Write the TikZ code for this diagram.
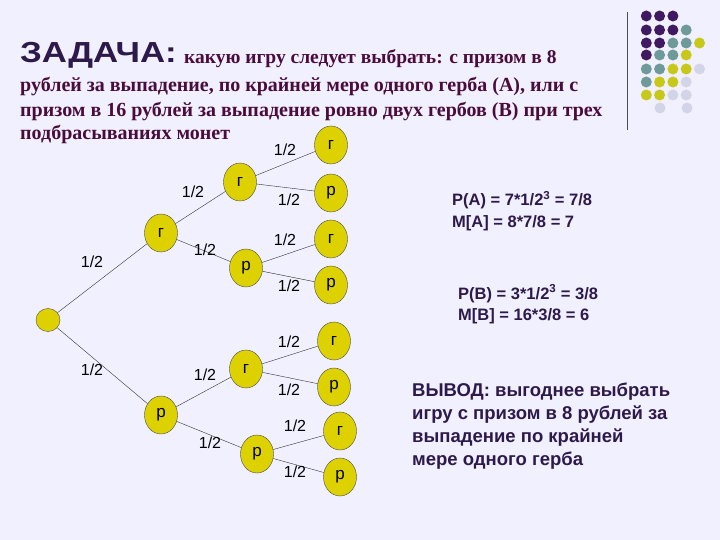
\documentclass[tikz,border=0pt]{standalone}
\usepackage{fontspec}
\setmainfont{Liberation Sans}
\newfontfamily\serifb{Liberation Serif}
\usetikzlibrary{shapes.geometric}
\begin{document}
\begin{tikzpicture}[x=1pt,y=-1pt,
  nd/.style={ellipse,draw=black!70,fill=yellow!70!olive,minimum width=33pt,minimum height=38pt,inner sep=0pt,font=\fontsize{17}{17}\selectfont},
  pl/.style={font=\fontsize{16}{16}\selectfont,inner sep=0pt},
  tx/.style={anchor=base west,inner sep=0pt,text=cD,font=\bfseries\fontsize{16.5}{16.5}\selectfont},
  ser/.style={anchor=base west,inner sep=0pt,text=cM,font=\serifb\bfseries\fontsize{20}{20}\selectfont},
  dt/.style={circle,inner sep=0pt,minimum size=11pt}]
\definecolor{cP}{HTML}{3F1A60}\definecolor{cT}{HTML}{6E9A9A}\definecolor{cY}{HTML}{C8C818}\definecolor{cL}{HTML}{D4D4E8}
\definecolor{cD}{HTML}{2E1A4A}\definecolor{cM}{HTML}{4A0C3C}
\fill[blue!6] (0,0) rectangle (720,540);
\useasboundingbox (0,0) rectangle (720,540);
% title
\node[anchor=base west,inner sep=0pt,text=cD,font=\bfseries\fontsize{29}{29}\selectfont] (t0) at (20,63) {\scalebox{1.2}[1]{ЗАДАЧА:}};
\node[ser,font=\serifb\bfseries\fontsize{19.5}{19.5}\selectfont] (t1) at (184,64) {какую игру следует выбрать: с призом в 8};
\node[ser] (t2) at (20,92) {рублей за выпадение, по крайней мере одного герба (А), или с};
\node[ser] (t3) at (20,117) {призом в 16 рублей за выпадение ровно двух гербов (В) при трех};
\node[ser] (t4) at (20,140) {подбрасываниях монет};
% deco
\draw[black!70] (627,12) -- (627,130);
\foreach \row/\y in {{cP,cP,cP}/16,{cP,cP,cP,cT}/30,{cP,cP,cT,cT,cY}/43,{cP,cT,cT,cY}/55,{cT,cT,cY,cY,cL}/69,{cT,cY,cY,cL}/82,{cY,cY,cL,cL}/95}{
  \foreach \c [count=\i] in \row { \node[dt,fill=\c] (d\i\y) at (633+13.3*\i,\y) {}; } }
\node[dt,fill=cL] (e1) at (660,108) {};
\node[dt,fill=cL] (e2) at (687,108) {};
% tree
\node[nd,minimum width=24pt,minimum height=23pt] (R) at (48,320) {};
\node[nd] (a) at (161,233) {г};
\node[nd] (b) at (161,415) {р};
\node[nd] (aa) at (240,182) {г};
\node[nd] (ab) at (246,268) {р};
\node[nd] (ba) at (246,369) {г};
\node[nd] (bb) at (257,454) {р};
\node[nd] (l1) at (331,145) {г};
\node[nd] (l2) at (331,193) {р};
\node[nd] (l3) at (331,239) {г};
\node[nd] (l4) at (331,285) {р};
\node[nd] (l5) at (334,341) {г};
\node[nd] (l6) at (334,387) {р};
\node[nd] (l7) at (340,431) {г};
\node[nd] (l8) at (340,477) {р};
\foreach \u/\v in {R/a,R/b,a/aa,a/ab,b/ba,b/bb,aa/l1,aa/l2,ab/l3,ab/l4,ba/l5,ba/l6,bb/l7,bb/l8}
  \draw[black!80,thin] (\u) -- (\v);
\foreach \p [count=\k] in {(92,262),(92,370),(193,192),(205,250),(205,375),(210,443),(285,150),(289,200),(285,240),(289,286),(289,342),(289,390),(295,426),(295,472)}
  \node[pl] (p\k) at \p {1/2};
% formulas
\node[tx] (f1) at (452,206) {Р(А) = 7*1/2\textsuperscript{3} = 7/8};
\node[tx] (f2) at (452,227) {М[А] = 8*7/8 = 7};
\node[tx] (f3) at (458,299) {Р(В) = 3*1/2\textsuperscript{3} = 3/8};
\node[tx] (f4) at (458,320) {М[В] = 16*3/8 = 6};
\node[tx,font=\bfseries\fontsize{18.5}{18.5}\selectfont] (c1) at (412,396) {ВЫВОД: выгоднее выбрать};
\node[tx,font=\bfseries\fontsize{18.5}{18.5}\selectfont] (c2) at (412,419) {игру с призом в 8 рублей за};
\node[tx,font=\bfseries\fontsize{18.5}{18.5}\selectfont] (c3) at (412,442) {выпадение по крайней};
\node[tx,font=\bfseries\fontsize{18.5}{18.5}\selectfont] (c4) at (412,465) {мере одного герба};
\end{tikzpicture}
\end{document}
